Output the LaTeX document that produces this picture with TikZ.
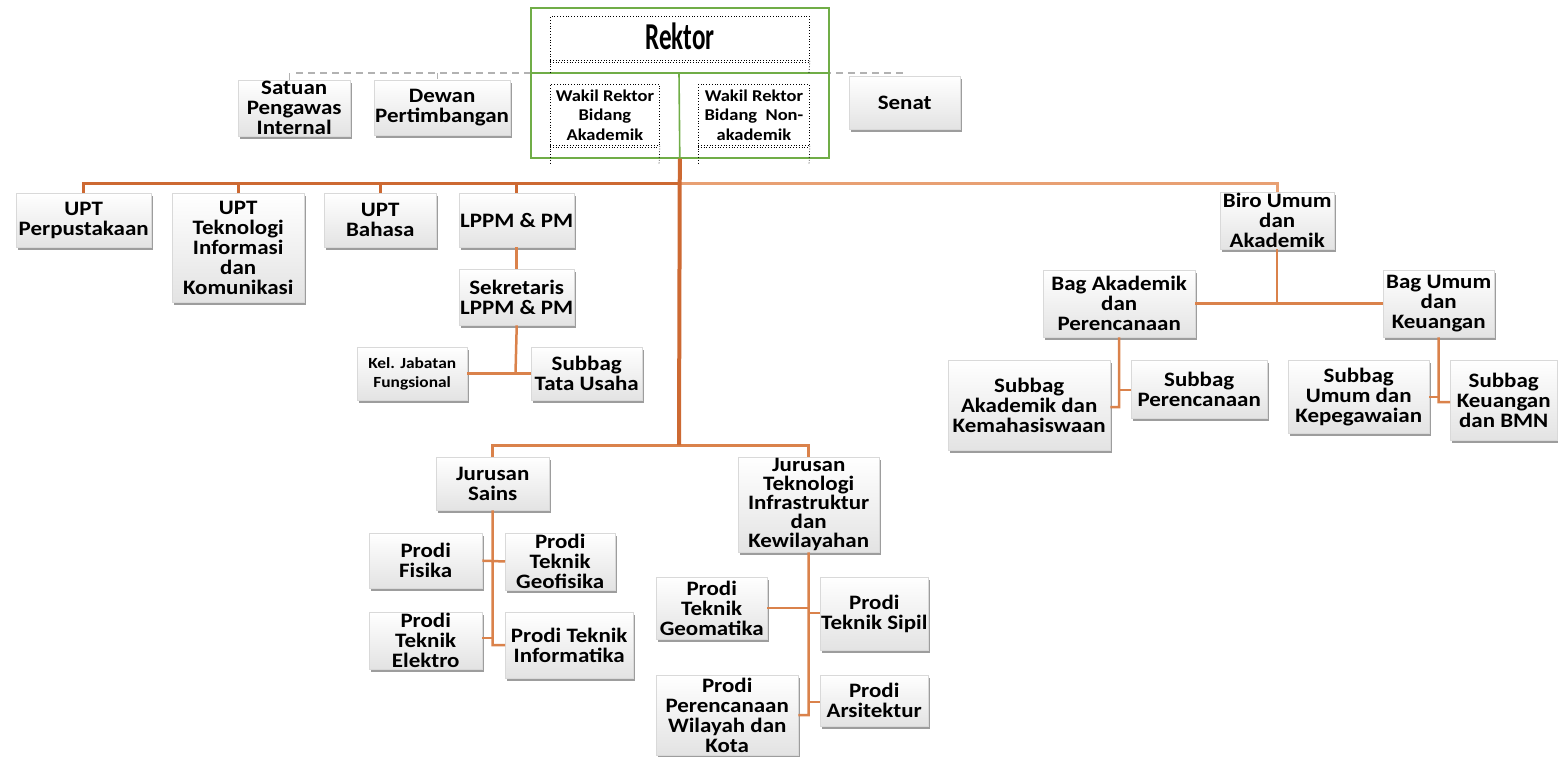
\documentclass[tikz,border=0pt]{standalone}
\usepackage{fontspec}
\setmainfont{Carlito}[FakeStretch=1.12]
\newfontfamily\rkfont{Carlito}[FakeStretch=0.66]
\usetikzlibrary{shadows}
\definecolor{connc}{RGB}{218,130,75}
\definecolor{conndark}{RGB}{205,105,50}
\definecolor{connlight}{RGB}{232,160,115}
\definecolor{frgreen}{RGB}{112,173,71}
\begin{document}
\begin{tikzpicture}[x=1pt,y=-1pt,
  box/.style={rectangle, inner sep=1pt, align=center, anchor=north west,
    font=\bfseries\fontsize{20.5}{20}\selectfont,
    top color=white, bottom color=gray!22, draw=gray!30, line width=0.4pt,
    drop shadow={shadow xshift=1.5pt, shadow yshift=-3pt, opacity=0.55, fill=black!70}},
  small/.style={font=\bfseries\fontsize{15.5}{19}\selectfont},
  wsmall/.style={font=\bfseries\fontsize{16.5}{19.5}\selectfont},
  dotbox/.style={rectangle, draw=black, dotted, line width=0.8pt, inner sep=1pt, align=center, anchor=north west},
  conn/.style={draw=connc, line width=2.5pt},
  darkconn/.style={draw=conndark, line width=3pt},
  lightconn/.style={draw=connlight, line width=3pt},
  midconn/.style={draw=connc, line width=3pt},
  mainconn/.style={draw=conndark, line width=4pt},
  grn/.style={draw=frgreen, line width=1.6pt},
  dashline/.style={draw=gray!60, line width=1.6pt, dash pattern=on 7pt off 5pt}
]
\useasboundingbox (0,0) rectangle (1558,757);

% gray dashed line to staff units
\draw[draw=gray!60, line width=1pt] (289,80) -- (289,73);
\draw[dashline] (296,73) -- (907,73);
\draw[draw=gray!60, line width=1pt] (437,73) -- (437,79);

% top staff boxes
\node[box, minimum width=112pt, minimum height=55pt] (spi) at (238,80) {Satuan\\Pengawas\\Internal};
\node[box, minimum width=135pt, minimum height=55pt] (dewan) at (374,80) {Dewan\\Pertimbangan};
\node[box, minimum width=111pt, minimum height=53pt] (senat) at (849,76) {Senat};

% Rektor frame
\node[draw=frgreen, line width=1.6pt, minimum width=298pt, minimum height=150pt, anchor=north west, inner sep=0pt] (frame) at (530,7) {};
\draw[grn] (530,73) -- (828,73);
\draw[grn] (679,73) -- (frame.south);

\node[dotbox, minimum width=259pt, minimum height=44pt] (rek) at (550,16) {\raisebox{4pt}{\rkfont\bfseries\fontsize{38}{38}\selectfont Rektor}};
\draw[dotted, line width=0.8pt] (550,62.5) -- (809,62.5);
\draw[dotted, line width=0.8pt] (rek.south west) -- (550,73);
\draw[dotted, line width=0.8pt] (rek.south east) -- (809,73);

\node[dotbox, wsmall, minimum width=109pt, minimum height=61pt] (wra) at (550,84) {Wakil Rektor\\Bidang\\Akademik};
\node[dotbox, wsmall, minimum width=111pt, minimum height=61pt] (wrn) at (698,84) {Wakil Rektor\\Bidang~~Non-\\akademik};
\draw[dotted, line width=0.8pt] (550,147) -- (659,147);
\draw[dotted, line width=0.8pt] (698,147) -- (809,147);
\draw[dotted, line width=0.8pt] (wra.south west) -- (550,165);
\draw[dotted, line width=0.8pt] (wra.south east) -- (659,165);
\draw[dotted, line width=0.8pt] (wrn.south west) -- (698,165);
\draw[dotted, line width=0.8pt] (wrn.south east) -- (809,165);

% second row
\node[box, minimum width=135pt, minimum height=54pt] (upt1) at (16,193) {UPT\\Perpustakaan};
\node[box, minimum width=132pt, minimum height=109pt] (upt2) at (172,193) {UPT\\Teknologi\\Informasi\\dan\\Komunikasi};
\node[box, minimum width=112pt, minimum height=54pt] (upt3) at (324,193) {UPT\\Bahasa};
\node[box, minimum width=113pt, minimum height=54pt] (lppm) at (459,193) {LPPM \& PM};
\node[box, minimum width=113pt, minimum height=56pt] (sek) at (459,269) {Sekretaris\\LPPM \& PM};
\node[box, small, minimum width=110pt, minimum height=53pt] (kel) at (357,347) {Kel. Jabatan\\Fungsional};
\node[box, minimum width=111pt, minimum height=53pt] (tu) at (531,347) {Subbag\\Tata Usaha};

\node[box, minimum width=114pt, minimum height=57pt] (biro) at (1220,192) {Biro Umum\\dan\\Akademik};
\node[box, minimum width=152pt, minimum height=67pt] (bagak) at (1043,270) {Bag Akademik\\dan\\Perencanaan};
\node[box, minimum width=111pt, minimum height=67pt] (bagum) at (1383,270) {Bag Umum\\dan\\Keuangan};
\node[box, minimum width=162pt, minimum height=90pt] (sak) at (948,360) {Subbag\\Akademik dan\\Kemahasiswaan};
\node[box, minimum width=136pt, minimum height=58pt] (sper) at (1131,360) {Subbag\\Perencanaan};
\node[box, minimum width=141pt, minimum height=73pt] (sum) at (1288,360) {Subbag\\Umum dan\\Kepegawaian};
\node[box, minimum width=107pt, minimum height=80pt] (skeu) at (1450,360) {Subbag\\Keuangan\\dan BMN};

% jurusan
\node[box, minimum width=113pt, minimum height=53pt] (js) at (436,457) {Jurusan\\Sains};
\node[box, minimum width=141pt, minimum height=95pt, font=\bfseries\fontsize{20.5}{19}\selectfont] (jt) at (738,457) {Jurusan\\Teknologi\\Infrastruktur\\dan\\Kewilayahan};
\node[box, minimum width=113pt, minimum height=55pt] (fis) at (369,533) {Prodi\\Fisika};
\node[box, minimum width=110pt, minimum height=55pt] (geo) at (505,533) {Prodi\\Teknik\\Geofisika};
\node[box, minimum width=113pt, minimum height=54pt] (ele) at (369,612) {Prodi\\Teknik\\Elektro};
\node[box, minimum width=128pt, minimum height=66pt] (inf) at (505,612) {Prodi Teknik\\Informatika};
\node[box, minimum width=111pt, minimum height=62pt] (gm) at (656,577) {Prodi\\Teknik\\Geomatika};
\node[box, minimum width=108pt, minimum height=73pt] (sip) at (820,577) {Prodi\\Teknik Sipil};
\node[box, minimum width=142pt, minimum height=80pt] (pwk) at (656,675) {Prodi\\Perencanaan\\Wilayah dan\\Kota};
\node[box, minimum width=108pt, minimum height=51pt] (ars) at (820,675) {Prodi\\Arsitektur};

% coordinates
\coordinate (b1) at (679,183);
\coordinate (b2) at (679,445);
\coordinate (k1) at (515.5,373.5);
\coordinate (ka) at (1119,407);
\coordinate (kb) at (1119,390);
\coordinate (kc) at (1438.5,402);
\coordinate (kd) at (1438.5,397);
\coordinate (ks) at (492.5,645);
\coordinate (ke) at (492.5,638);
\coordinate (kt) at (808.5,715);
\coordinate (kg) at (808.5,608);
\coordinate (ksp) at (808.5,613);
\coordinate (kar) at (808.5,702);

% connectors
\draw[darkconn] (upt1.north) |- (b1);
\draw[lightconn] (b1) -| (biro.north);
\draw[darkconn] (upt2.north) -- (upt2.north |- b1);
\draw[darkconn] (upt3.north) -- (upt3.north |- b1);
\draw[darkconn] (lppm.north) -- (lppm.north |- b1);
\draw[midconn] (js.north) |- (b2) -| (jt.north);
\draw[mainconn] (frame.south) -- (b2);
\draw[conn] (lppm.south) -- (sek.north);
\draw[conn] (sek.south) -- (k1);
\draw[conn] (kel.east) -- (tu.west);
\draw[conn] (biro.south) -- (biro.south |- bagak.east);
\draw[conn] (bagak.east) -- (bagum.west);
\draw[conn] (bagak.south) -- (ka) -- (sak.east |- ka);
\draw[conn] (kb) -- (sper.west |- kb);
\draw[conn] (bagum.south) -- (kc) -- (skeu.west |- kc);
\draw[conn] (kd) -- (sum.east |- kd);
\draw[conn] (js.south) -- (ks) -- (inf.west |- ks);
\draw[conn] (fis.east) -- (geo.west);
\draw[conn] (ele.east |- ke) -- (ke);
\draw[conn] (jt.south) -- (kt) -- (pwk.east |- kt);
\draw[conn] (gm.east |- kg) -- (kg);
\draw[conn] (ksp) -- (sip.west |- ksp);
\draw[conn] (kar) -- (ars.west |- kar);
\end{tikzpicture}
\end{document}
